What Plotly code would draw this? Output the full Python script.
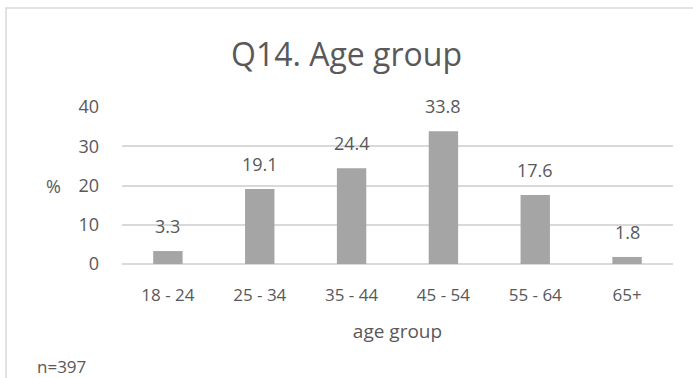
import plotly.graph_objects as go

categories = ["18 - 24", "25 - 34", "35 - 44", "45 - 54", "55 - 64", "65+"]
percent = [3.3, 19.1, 24.4, 33.8, 17.6, 1.8]
y_ticks = [0, 10, 20, 30, 40]

FONT = "Open Sans"
TEXT = "#595959"

fig = go.Figure(
    go.Bar(
        x=categories,
        y=percent,
        marker=dict(color="#A5A5A5", line=dict(width=0)),
        width=0.32,
        hoverinfo="x+y",
    )
)

# value labels above each bar
for c, v in zip(categories, percent):
    fig.add_annotation(
        x=c, y=v, text=f"{v:.1f}", showarrow=False,
        yanchor="bottom", yshift=11,
        font=dict(family=FONT, size=18, color=TEXT),
    )

fig.update_layout(
    width=693, height=378,
    margin=dict(l=122, r=20, t=107, b=114),
    paper_bgcolor="white", plot_bgcolor="white",
    showlegend=False,
    font=dict(family=FONT, color=TEXT),
    title=dict(
        text="Q14. Age group", x=0.5, xanchor="center",
        y=1 - 55 / 378, yanchor="middle",
        font=dict(family=FONT, size=32, color=TEXT),
    ),
    xaxis=dict(
        showgrid=False, showline=False, ticks="",
        ticklabelstandoff=19,
        tickfont=dict(family=FONT, size=17, color=TEXT),
        title=dict(text="age group", font=dict(family=FONT, size=19, color=TEXT), standoff=19),
    ),
    yaxis=dict(
        range=[0, 40], tickvals=y_ticks,
        showgrid=True, gridcolor="#D9D9D9", gridwidth=1.5,
        zeroline=True, zerolinecolor="#D9D9D9", zerolinewidth=1.5,
        showline=False, ticks="", ticklabelstandoff=22,
        tickfont=dict(family=FONT, size=18, color=TEXT),
    ),
)

# "%" axis label placed beside the 20 tick
fig.add_annotation(
    xref="paper", yref="y", x=0, y=20, xshift=-59,
    text="%", showarrow=False, xanchor="right",
    font=dict(family=FONT, size=18, color=TEXT),
)

# sample size note
fig.add_annotation(
    xref="paper", yref="paper", x=0, y=0, xshift=-87, yshift=-102,
    text="n=397", showarrow=False, xanchor="left", yanchor="middle",
    font=dict(family=FONT, size=17, color=TEXT),
)

# chart frame
fig.add_shape(
    type="rect", xref="paper", yref="paper",
    x0=-116 / 551, x1=1.2, y0=-1.0, y1=1 + 99 / 157,
    line=dict(color="#D9D9D9", width=1.5), fillcolor="rgba(0,0,0,0)",
    layer="below",
)

fig.write_html("out.html")
